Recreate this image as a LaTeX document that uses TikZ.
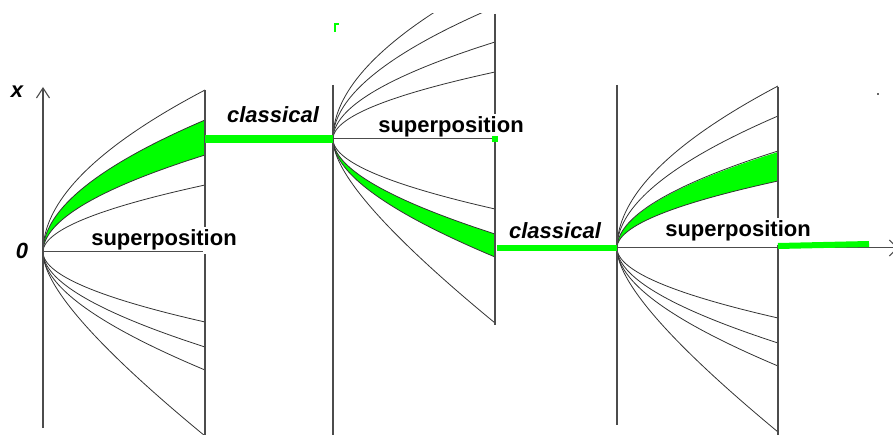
\documentclass[tikz,border=0pt]{standalone}
\usepackage{fontspec}
\setmainfont{Liberation Sans}
\usetikzlibrary{arrows.meta,positioning}
\definecolor{brightgreen}{RGB}{0,255,0}

\begin{document}
\begin{tikzpicture}[
    x=1pt, y=-1pt,
    traj/.style={black!80, line width=0.8pt},
    band/.style={fill=brightgreen},
    wall/.style={black!70, line width=1.1pt},
    axis/.style={black!70, line width=1pt},
    classic/.style={brightgreen, line width=#1},
    classic/.default=6pt,
    lbl/.style={font=\fontsize{22}{26}\selectfont\bfseries, fill=white, inner xsep=9pt, inner ysep=3pt, anchor=base},
    tag/.style={font=\fontsize{22}{26}\selectfont\bfseries\itshape, anchor=base},
    var/.style={font=\fontsize{22}{26}\selectfont\bfseries\itshape}
]
\useasboundingbox (0,0) rectangle (893,435);
\clip (0,0) rectangle (893,435);
\coordinate (o1) at (43,252);
\coordinate (o2) at (333,139);
\coordinate (o3) at (617,248);

% fans of trajectories
\begin{scope}
\clip (0,14) rectangle (893,435);
\fill[band] plot[domain=0:1, samples=40] ({43+162*\x*\x},{252-132*(0.95*\x+0.05*\x*\x)})
  -- plot[domain=1:0, samples=40] ({43+162*\x*\x},{252-97*(0.95*\x+0.05*\x*\x)}) -- cycle;
\fill[band] plot[domain=0:1, samples=40] ({333+162*\x*\x},{139+95*(0.9*\x+0.1*\x*\x)})
  -- plot[domain=1:0, samples=40] ({333+162*\x*\x},{139+118*(0.85*\x+0.15*\x*\x)}) -- cycle;
\fill[band] plot[domain=0:1, samples=40] ({617+161*\x*\x},{248-96*(0.95*\x+0.05*\x*\x)})
  -- plot[domain=1:0, samples=40] ({617+161*\x*\x},{248-67*(0.95*\x+0.05*\x*\x)}) -- cycle;
\foreach \ox/\oy/\w in {43/252/162, 333/139/162, 617/248/161}
  \foreach \h/\c in {-162/0.95, -132/0.95, -97/0.95, -67/0.95, 70/0.95, 95/0.9, 118/0.85, 184/0.55}
    \draw[traj] plot[domain=0:1, samples=40] ({\ox+\w*\x*\x},{\oy+\h*(\c*\x+(1-\c)*\x*\x)});
\end{scope}

% vertical lines
\draw[wall, -{Straight Barb[length=10pt, width=13pt]}] (43,428) -- (43,87);
\draw[wall] (205,90) -- (205,435);
\draw[wall] (333,85) -- (333,435);
\draw[wall] (495,14) -- (495,325);
\draw[wall] (617,85) -- (617,425);
\draw[wall] (778,87) -- (778,435);

\node[var] (xlab) at (17,92) {x};
\node[var] (zero) at (22,251) {0};
\node[tag] (cl1) at (273,123) {classical};
\node[tag] (cl2) at (555,239) {classical};
\node[lbl] (sp1) at (164,246) {superposition};
\node[lbl] (sp2) at (451,133) {superposition};
\node[lbl] (sp3) at (738,237) {superposition};

% horizontal lines
\draw[axis] (o1) -- (203,252);
\draw[axis] (o2) -- (495,139);
\draw[axis, -{Straight Barb[length=8pt, width=16pt]}] (o3) -- (898,248);

% classical steps
\draw[classic=8pt] (205,139) -- (o2);
\fill[brightgreen] (492,136) rectangle (498,142);
\draw[classic] (497,248) -- (o3);
\draw[classic] (778,246) -- (869,244);
\draw[brightgreen, line width=1.5pt] (335,32) -- (335,24) -- (339,24);
\fill[black!60] (877,93) rectangle (879,95);
\end{tikzpicture}
\end{document}
